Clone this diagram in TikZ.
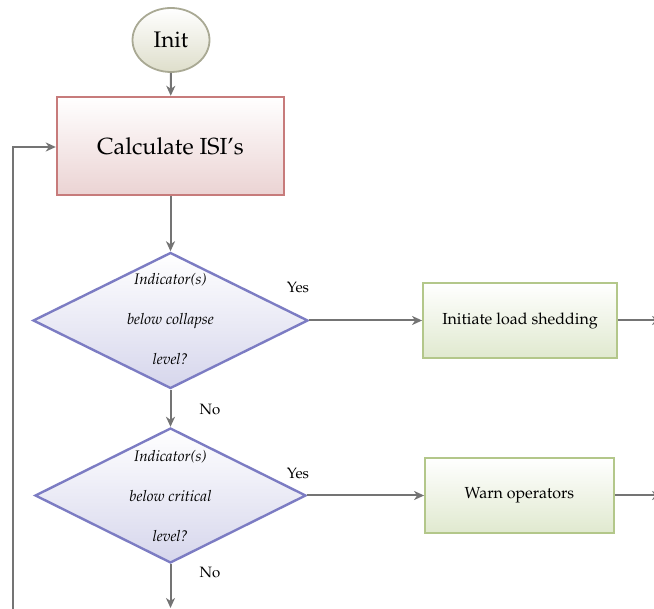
\documentclass[tikz,border=0pt]{standalone}
\usepackage[T1]{fontenc}
\usepackage{mathpazo}
\usetikzlibrary{shapes.geometric,arrows.meta}
\definecolor{linegray}{HTML}{747474}
\definecolor{initborder}{HTML}{A9A994}
\definecolor{initfill}{HTML}{DEDECB}
\definecolor{calcborder}{HTML}{C77B7B}
\definecolor{calcfill}{HTML}{EBD3D3}
\definecolor{decborder}{HTML}{7C7CC3}
\definecolor{decfill}{HTML}{D6D6EC}
\definecolor{actborder}{HTML}{B3C78A}
\definecolor{actfill}{HTML}{E0E9CF}
\tikzset{
  conn/.style={draw=linegray, line width=2pt, -{Stealth[length=10pt,width=9pt,inset=3pt]}},
  initnode/.style={ellipse, draw=initborder, line width=1.8pt, top color=white, bottom color=initfill,
     minimum width=77pt, minimum height=64pt, inner sep=0pt, font=\fontsize{22.5}{26}\selectfont},
  calcnode/.style={rectangle, draw=calcborder, line width=2.4pt, top color=white, bottom color=calcfill,
     minimum width=227pt, minimum height=98pt, inner sep=0pt, font=\fontsize{23.3}{26}\selectfont},
  decnode/.style={diamond, draw=decborder, line width=2.4pt, top color=white, bottom color=decfill,
     minimum width=275pt, minimum height=136pt, inner sep=0pt},
  dectext/.style={align=center, font=\itshape\fontsize{15.3}{40}\selectfont, inner sep=0pt},
  actnode/.style={rectangle, draw=actborder, line width=1.8pt, top color=white, bottom color=actfill,
     minimum height=75pt, inner sep=0pt, font=\fontsize{16}{18}\selectfont},
  lbl/.style={font=\fontsize{15}{17}\selectfont, inner sep=0pt}
}
\begin{document}
\begin{tikzpicture}[x=1pt,y=-1pt]
\useasboundingbox (0,0) rectangle (654,609);
\clip (0,0) rectangle (654,609);
\node[initnode] (init) at (171,40) {Init};
\node[calcnode] (calc) at (170.5,146) {Calculate ISI's};
\node[decnode] (d1) at (170.5,320.5) {};
\node[dectext] (d1t) at (170.5,319) {Indicator(s)\\below collapse\\level?};
\node[actnode, minimum width=194pt] (a1) at (520,320.5) {Initiate load shedding};
\node[decnode, minimum width=271pt, minimum height=135pt] (d2) at (170.5,495.5) {};
\node[dectext] (d2t) at (170.5,496) {Indicator(s)\\below critical\\level?};
\node[actnode, minimum width=189pt] (a2) at (519.5,495.5) {Warn operators};
\coordinate (r1) at (662,320.5);
\coordinate (r2) at (662,495.5);
\coordinate (bot) at (170.5,608);
\coordinate (loopb) at (13,630);
\coordinate (loopt) at (13,147);
\node[lbl] (yes1) at (298,287) {Yes};
\node[lbl] (no1) at (210,409) {No};
\node[lbl] (yes2) at (298,473) {Yes};
\node[lbl] (no2) at (210,572) {No};
\draw[conn] (init) -- (calc);
\draw[conn] (calc) -- (d1);
\draw[conn] (d1.east) -- (a1.west);
\draw[conn] (a1.east) -- (r1);
\draw[conn] (d1.south) -- (d2.north);
\draw[conn] (d2.east) -- (a2.west);
\draw[conn] (a2.east) -- (r2);
\draw[conn] (d2.south) -- (bot);
\draw[conn] (loopb) -- (loopt) -- (loopt -| calc.west);
\end{tikzpicture}
\end{document}
